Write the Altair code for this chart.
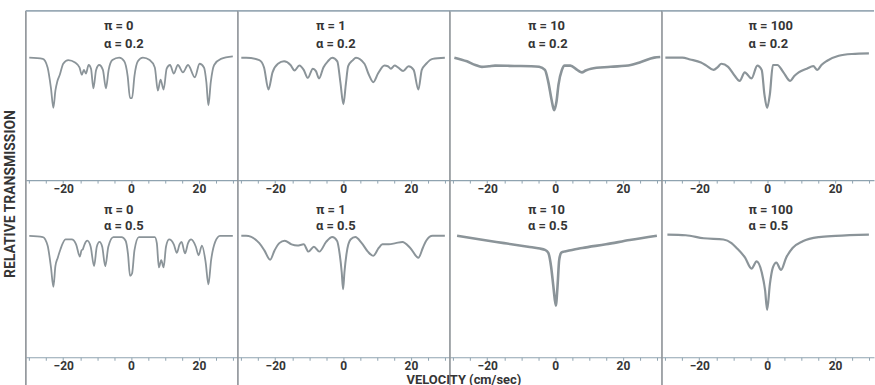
import altair as alt
import pandas as pd

# ---------------- data (velocity cm/sec, absorption below baseline) ----------------
pi_labels = ["0", "1", "10", "100"]
alpha_labels = ["0.2", "0.5"]
tick_values = [-30, -25, -20, -15, -10, -5, 0, 5, 10, 15, 20, 25, 30]

pi0_a02 = [(-30, 0), (-26, 0.01), (-24.6, 0.08), (-23.6, 0.25), (-22.9, 0.41), (-22.3, 0.27),
           (-21.7, 0.19), (-21.0, 0.14), (-20.0, 0.05), (-18.5, 0.02), (-16.5, 0.04), (-15.2, 0.08),
           (-14.5, 0.14), (-13.9, 0.10), (-13.3, 0.13), (-12.5, 0.06), (-11.8, 0.09), (-11.1, 0.25),
           (-10.3, 0.10), (-9.4, 0.06), (-8.3, 0.10), (-7.4, 0.25), (-6.6, 0.10), (-5.5, 0.02),
           (-3.5, 0.0), (-2.0, 0.03), (-1.0, 0.15), (-0.3, 0.33), (0.3, 0.33), (1.0, 0.15),
           (2.0, 0.03), (3.5, 0.0), (5.5, 0.02), (7.0, 0.08), (7.9, 0.27), (8.7, 0.18), (9.6, 0.26),
           (10.5, 0.09), (11.5, 0.06), (12.6, 0.13), (13.8, 0.06), (15.3, 0.12), (16.8, 0.06),
           (18.8, 0.16), (20.2, 0.05), (21.5, 0.08), (22.2, 0.2), (22.8, 0.39), (23.5, 0.2),
           (24.5, 0.06), (26.5, 0.01), (30, -0.01)]

pi0_a05 = [(-30, 0), (-26, 0.01), (-24.6, 0.08), (-23.6, 0.26), (-22.9, 0.42), (-22.3, 0.25),
           (-21.6, 0.18), (-20.8, 0.11), (-19.3, 0.03), (-17.5, 0.03), (-16.2, 0.07), (-15.1, 0.17),
           (-14.6, 0.12), (-14.2, 0.11), (-13.7, 0.07), (-12.9, 0.04), (-11.9, 0.09), (-10.9, 0.25),
           (-10.1, 0.09), (-9.3, 0.05), (-8.5, 0.09), (-7.6, 0.25), (-6.7, 0.09), (-5.2, 0.01),
           (-2.8, 0.01), (-1.6, 0.04), (-0.9, 0.15), (-0.3, 0.33), (0.3, 0.31), (1.0, 0.12),
           (2.3, 0.01), (7.0, 0.01), (7.6, 0.06), (8.2, 0.26), (8.9, 0.2), (9.6, 0.26), (10.3, 0.09),
           (11.2, 0.03), (12.6, 0.07), (13.5, 0.14), (14.3, 0.07), (14.9, 0.05), (15.9, 0.145),
           (16.8, 0.06), (17.7, 0.03), (19.1, 0.09), (19.9, 0.16), (20.9, 0.08), (22.0, 0.22),
           (22.8, 0.40), (23.6, 0.2), (24.8, 0.05), (26.2, 0.0), (30, 0)]

pi1_a02 = [(-30, 0), (-28.6, 0), (-24.7, 0.02), (-23.3, 0.08), (-22, 0.26), (-20.8, 0.12),
           (-19.2, 0.05), (-17.4, 0.03), (-15.5, 0.06), (-14.3, 0.105), (-12.9, 0.065), (-11.6, 0.1),
           (-10.4, 0.165), (-8.9, 0.09), (-8.0, 0.11), (-7.1, 0.17), (-5.8, 0.08), (-4.5, 0.03),
           (-3.2, 0.0), (-1.7, 0.03), (-0.8, 0.2), (0.1, 0.38), (0.8, 0.22), (1.5, 0.07), (2.9, 0.02),
           (3.8, 0.0), (6.3, 0.05), (7.6, 0.14), (8.9, 0.20), (10.3, 0.13), (12.2, 0.065),
           (13.2, 0.07), (14.1, 0.09), (15.2, 0.065), (16.2, 0.08), (17.7, 0.11), (19.3, 0.07),
           (20.8, 0.1), (22.2, 0.26), (23.2, 0.1), (24.5, 0.05), (26.4, 0.01), (30, 0)]

pi1_a05 = [(-30, 0), (-28.6, 0), (-24.7, 0.06), (-23.2, 0.12), (-21.5, 0.197), (-20.2, 0.12),
           (-18.8, 0.06), (-17.2, 0.04), (-15.2, 0.07), (-13.5, 0.08), (-11.6, 0.07), (-10.2, 0.13),
           (-8.6, 0.09), (-7.0, 0.13), (-5.0, 0.05), (-3.2, 0.01), (-1.8, 0.04), (-1.0, 0.15),
           (-0.4, 0.3), (0, 0.44), (0.4, 0.3), (1.0, 0.15), (2.2, 0.03), (3.6, 0.01), (5.5, 0.06),
           (7.3, 0.13), (8.9, 0.165), (10.5, 0.1), (11.6, 0.07), (13.5, 0.07), (15.5, 0.06),
           (17.5, 0.05), (19.8, 0.1), (22.2, 0.18), (23.5, 0.1), (24.5, 0.04), (26.4, 0.0), (30, 0)]

pi10_a02 = [(-29.7, 0), (-26, 0.03), (-23.5, 0.06), (-21.6, 0.075), (-19.5, 0.07), (-17.7, 0.065),
            (-12, 0.068), (-7, 0.07), (-4.7, 0.075), (-3, 0.1), (-2, 0.2), (-1, 0.35), (-0.3, 0.43),
            (0.4, 0.36), (1, 0.22), (2, 0.1), (2.8, 0.065), (4.5, 0.065), (6.5, 0.1), (7.9, 0.12),
            (9, 0.105), (10.6, 0.09), (16.4, 0.075), (22.3, 0.06), (25.3, 0.035), (29.2, 0.0),
            (31, -0.005)]

pi10_a05 = [(-28.9, 0), (-22, 0.03), (-15, 0.06), (-8, 0.09), (-4.5, 0.105), (-3, 0.115),
            (-2, 0.14), (-1.2, 0.25), (-0.5, 0.42), (0.2, 0.575), (0.7, 0.42), (1.2, 0.2),
            (1.8, 0.14), (2.6, 0.13), (3.5, 0.125), (8, 0.1), (15, 0.07), (22, 0.035), (30, 0.0)]

pi100_a02 = [(-30, 0), (-25, 0.0), (-22.7, 0.015), (-19.5, 0.04), (-17.9, 0.065), (-15.8, 0.1),
             (-14.5, 0.075), (-13.5, 0.05), (-11.5, 0.075), (-9.5, 0.15), (-8.1, 0.19), (-6.6, 0.12),
             (-4.6, 0.17), (-2.9, 0.065), (-1.6, 0.1), (-0.8, 0.3), (0, 0.41), (0.8, 0.3),
             (1.7, 0.06), (3, 0.06), (4.8, 0.12), (6.8, 0.19), (8, 0.15), (9.3, 0.12), (11.7, 0.09),
             (13.6, 0.07), (14.8, 0.1), (16, 0.06), (17.7, 0.025), (21.1, -0.015), (25, -0.03),
             (30, -0.035)]

pi100_a05 = [(-29.4, -0.01), (-24, -0.005), (-18.7, 0.02), (-12.9, 0.03), (-10.5, 0.06), (-9, 0.1),
             (-6.5, 0.18), (-4.6, 0.27), (-3.1, 0.21), (-1.6, 0.3), (-0.6, 0.45), (0, 0.61),
             (0.8, 0.4), (1.7, 0.26), (2.7, 0.22), (4.1, 0.28), (5.6, 0.18), (7.5, 0.1),
             (10.5, 0.045), (15.3, 0.01), (20.2, 0), (30, -0.01)]

curves = [[pi0_a02, pi1_a02, pi10_a02, pi100_a02],
          [pi0_a05, pi1_a05, pi10_a05, pi100_a05]]

# ---------------- layout / style ----------------
W = 213
H = [170, 164]
PX_PER_UNIT = [123, 122]
ROW_GAP = 14
VMIN, VMAX = -31, 31.5
TITLE_PX = [W * (-8 - VMIN) / (VMAX - VMIN)] * 3 + [W * (-5.5 - VMIN) / (VMAX - VMIN)]
TITLE_Y = [(15, 33), (16, 32)]
LINE_W = [1.8, 2.0, 2.6, 2.2]
CURVE = "#8b9499"
FRAME = "#8c9196"
AXIS = "#8fa3b0"
TEXT = "#353535"
FONT = "Roboto"

one = alt.Data(values=[{"k": 0}])


def panel(row, col):
    h = H[row]
    df = pd.DataFrame(curves[row][col], columns=["v", "a"])
    df["t"] = 1 - df["a"]
    x = alt.X("v:Q", title=None,
              scale=alt.Scale(domain=[VMIN, VMAX], nice=False, zero=False),
              axis=alt.Axis(values=tick_values, labelOverlap=False, labelFlush=False,
                            labelExpr="datum.value == 0 ? '0' : (datum.value % 20 == 0 ? format(datum.value, 'd') : '')",
                            grid=False, domainColor=AXIS, domainWidth=1.2, tickColor=AXIS,
                            tickSize=3, tickWidth=1, labelFont=FONT, labelFontWeight="bold",
                            labelFontSize=12, labelColor=TEXT, labelPadding=0))
    y = alt.Y("t:Q", axis=None,
              scale=alt.Scale(domain=[0, h / PX_PER_UNIT[row]], nice=False, zero=False))
    line = alt.Chart(df).mark_line(color=CURVE, strokeWidth=LINE_W[col], interpolate="monotone").encode(x=x, y=y)
    t1 = alt.Chart(one).mark_text(align="left", baseline="middle", font=FONT, fontWeight="bold",
                                  fontSize=13, color=TEXT).encode(
        x=alt.value(TITLE_PX[col]), y=alt.value(TITLE_Y[row][0]), text=alt.value(f"π = {pi_labels[col]}"))
    t2 = alt.Chart(one).mark_text(align="left", baseline="middle", font=FONT, fontWeight="bold",
                                  fontSize=13, color=TEXT).encode(
        x=alt.value(TITLE_PX[col]), y=alt.value(TITLE_Y[row][1]), text=alt.value(f"α = {alpha_labels[row]}"))
    ext = ROW_GAP if row == 0 else 40
    sep = alt.Chart(one).mark_rule(color=FRAME, strokeWidth=1.6).encode(
        x=alt.value(0), y=alt.value(0), y2=alt.value(h + ext))
    layers = [line, sep, t1, t2]
    if row == 0:
        top = alt.Chart(one).mark_rule(color="#9aaab6", strokeWidth=1.6).encode(
            x=alt.value(0), x2=alt.value(W), y=alt.value(0))
        layers.append(top)
        if col == 0:
            ylab = alt.Chart(one).mark_text(angle=270, align="center", baseline="middle", font=FONT,
                                            fontWeight="bold", fontSize=14, color=TEXT).encode(
                x=alt.value(-15), y=alt.value(184), text=alt.value("RELATIVE TRANSMISSION"))
            layers.append(ylab)
    if row == 1 and col == 2:
        xlab = alt.Chart(one).mark_text(align="center", baseline="middle", font=FONT,
                                        fontWeight="bold", fontSize=13, color=TEXT).encode(
            x=alt.value(14), y=alt.value(h + 22.5), text=alt.value("VELOCITY (cm/sec)"))
        layers.append(xlab)
    return alt.layer(*layers).properties(width=W, height=h)


panels = [panel(r, c) for r in range(2) for c in range(4)]
chart = alt.concat(*panels, columns=4, spacing=alt.RowColnumber(row=ROW_GAP, column=0),
                   bounds="flush").properties(
    padding={"left": 4, "top": 9, "right": 0, "bottom": 0}, background="white"
).configure_view(stroke=None)

chart.save("out.html", embed_options={"renderer": "svg", "actions": False})
